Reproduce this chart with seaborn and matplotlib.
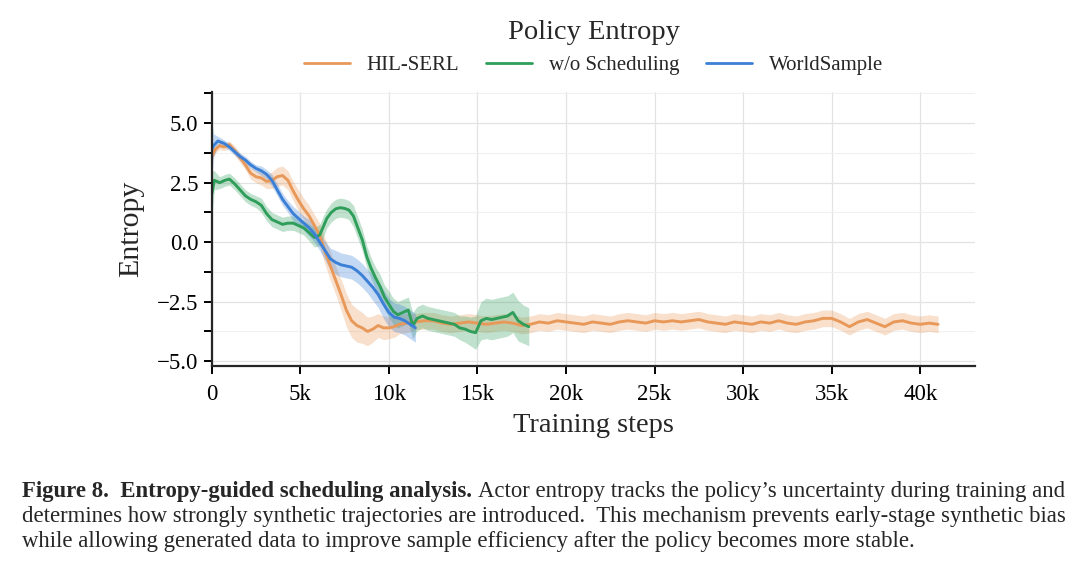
import numpy as np
import pandas as pd
import matplotlib
matplotlib.use('Agg')
import matplotlib.pyplot as plt
import seaborn as sns
from matplotlib.ticker import MultipleLocator, FuncFormatter

# HIL-SERL (steps in k, mean entropy, band half width)
hil_x = [0, 0.2, 0.45, 0.7, 1.0, 1.3, 1.6, 1.9, 2.2, 2.5,
         2.8, 3.1, 3.4, 3.7, 4.0, 4.3, 4.6, 4.9, 5.2, 5.5,
         5.8, 6.1, 6.4, 6.7, 7.0, 7.3, 7.6, 7.9, 8.2, 8.5,
         8.8, 9.1, 9.4, 9.7, 10.0, 10.3, 10.6, 11.0,
         11.5, 12, 12.5, 13, 13.5, 14, 14.5, 15, 15.5, 16,
         16.5, 17, 17.5, 18, 18.5, 19, 19.5, 20, 20.5, 21,
         21.5, 22, 22.5, 23, 23.5, 24, 24.5, 25, 25.5, 26,
         26.5, 27, 27.5, 28, 28.5, 29, 29.5, 30, 30.5, 31,
         31.5, 32, 32.5, 33, 33.5, 34, 34.5, 35, 35.5, 36,
         36.5, 37, 37.5, 38, 38.5, 39, 39.5, 40, 40.5, 41]
hil_y = [3.6, 3.9, 4.05, 4.0, 4.1, 3.85, 3.55, 3.25, 2.9, 2.75,
         2.7, 2.55, 2.6, 2.75, 2.8, 2.6, 2.15, 1.75, 1.4, 1.1,
         0.7, 0.3, -0.4, -1.0, -1.6, -2.2, -2.85, -3.3, -3.5, -3.6,
         -3.75, -3.65, -3.5, -3.6, -3.6, -3.55, -3.45, -3.4,
         -3.35, -3.3, -3.3, -3.4, -3.45, -3.4, -3.35, -3.4, -3.45, -3.4,
         -3.35, -3.4, -3.5, -3.45, -3.35, -3.4, -3.3, -3.35, -3.4, -3.45,
         -3.35, -3.4, -3.45, -3.35, -3.3, -3.35, -3.4, -3.3, -3.35, -3.3,
         -3.35, -3.3, -3.25, -3.35, -3.4, -3.45, -3.35, -3.4, -3.45, -3.35,
         -3.4, -3.3, -3.4, -3.45, -3.35, -3.3, -3.2, -3.2, -3.35, -3.55,
         -3.35, -3.25, -3.4, -3.55, -3.35, -3.3, -3.4, -3.45, -3.4, -3.45]
hil_band = [0.2, 0.15, 0.15, 0.15, 0.15, 0.2, 0.2, 0.2, 0.25, 0.25,
            0.3, 0.3, 0.35, 0.4, 0.4, 0.4, 0.4, 0.45, 0.45, 0.45,
            0.45, 0.5, 0.55, 0.6, 0.6, 0.65, 0.7, 0.7, 0.7, 0.65,
            0.6, 0.55, 0.5, 0.5, 0.45, 0.45, 0.4, 0.4,
            0.35, 0.35, 0.35, 0.35, 0.35, 0.35, 0.35, 0.35, 0.35, 0.35,
            0.35, 0.35, 0.35, 0.35, 0.35, 0.35, 0.35, 0.35, 0.35, 0.35,
            0.35, 0.35, 0.35, 0.35, 0.35, 0.35, 0.35, 0.35, 0.35, 0.35,
            0.35, 0.35, 0.35, 0.35, 0.35, 0.35, 0.35, 0.35, 0.35, 0.35,
            0.35, 0.35, 0.35, 0.35, 0.35, 0.35, 0.35, 0.35, 0.35, 0.35,
            0.35, 0.35, 0.35, 0.35, 0.35, 0.35, 0.35, 0.35, 0.35, 0.35]

# w/o Scheduling
wos_x = [0, 0.15, 0.45, 0.75, 1.0, 1.3, 1.6, 1.9, 2.2, 2.5,
         2.8, 3.1, 3.4, 3.7, 4.0, 4.3, 4.6, 4.9, 5.2, 5.5,
         5.8, 6.1, 6.3, 6.5, 6.75, 7.0, 7.25, 7.5, 7.75, 8.0,
         8.25, 8.5, 8.75, 9.0, 9.25, 9.5, 9.75, 10.0, 10.25, 10.5,
         10.8, 11.1, 11.35, 11.6, 11.9, 12.2, 12.5, 12.8, 13.1, 13.4,
         13.7, 14.0, 14.3, 14.6, 14.9, 15.2, 15.5, 15.8, 16.1, 16.4,
         16.7, 17.0, 17.3, 17.6, 17.9]
wos_y = [2.0, 2.6, 2.5, 2.6, 2.65, 2.45, 2.2, 1.95, 1.8, 1.7,
         1.55, 1.2, 0.95, 0.85, 0.75, 0.8, 0.8, 0.7, 0.6, 0.4,
         0.2, 0.3, 0.65, 1.0, 1.25, 1.4, 1.45, 1.42, 1.35, 1.1,
         0.6, 0.1, -0.6, -1.1, -1.5, -1.85, -2.3, -2.6, -2.9, -3.05,
         -2.95, -2.85, -3.5, -3.2, -3.1, -3.2, -3.25, -3.3, -3.35, -3.4,
         -3.45, -3.6, -3.65, -3.75, -3.8, -3.3, -3.2, -3.25, -3.2, -3.15,
         -3.1, -2.95, -3.3, -3.45, -3.55]
wos_band = [1.0, 0.4, 0.25, 0.25, 0.25, 0.25, 0.25, 0.25, 0.25, 0.25,
            0.3, 0.3, 0.3, 0.3, 0.3, 0.3, 0.3, 0.3, 0.3, 0.35,
            0.4, 0.45, 0.45, 0.4, 0.4, 0.4, 0.4, 0.4, 0.4, 0.45,
            0.45, 0.45, 0.45, 0.45, 0.45, 0.5, 0.5, 0.55, 0.55, 0.55,
            0.55, 0.55, 0.55, 0.5, 0.5, 0.5, 0.5, 0.5, 0.5, 0.5,
            0.5, 0.5, 0.55, 0.6, 0.7, 0.8, 0.85, 0.85, 0.85, 0.85,
            0.85, 0.85, 0.85, 0.8, 0.8]

# WorldSample
ws_x = [0, 0.1, 0.35, 0.7, 1.0, 1.3, 1.6, 1.9, 2.2, 2.5,
        2.8, 3.1, 3.4, 3.7, 4.0, 4.3, 4.6, 4.9, 5.2, 5.5,
        5.8, 6.1, 6.4, 6.7, 7.0, 7.3, 7.6, 7.9, 8.2, 8.5,
        8.8, 9.1, 9.4, 9.7, 10.0, 10.3, 10.6, 10.9, 11.2, 11.5]
ws_y = [3.9, 4.05, 4.25, 4.15, 4.0, 3.8, 3.6, 3.45, 3.25, 3.1,
        3.0, 2.85, 2.6, 2.2, 1.8, 1.5, 1.2, 1.0, 0.8, 0.6,
        0.35, 0.0, -0.35, -0.7, -0.85, -0.95, -1.0, -1.05, -1.2, -1.4,
        -1.65, -1.9, -2.2, -2.6, -2.95, -3.15, -3.2, -3.3, -3.45, -3.6]
ws_band = [1.3, 0.5, 0.2, 0.15, 0.15, 0.15, 0.15, 0.15, 0.15, 0.15,
           0.2, 0.2, 0.25, 0.25, 0.25, 0.25, 0.3, 0.3, 0.3, 0.35,
           0.35, 0.35, 0.4, 0.45, 0.5, 0.5, 0.5, 0.5, 0.5, 0.5,
           0.5, 0.55, 0.55, 0.6, 0.6, 0.6, 0.6, 0.6, 0.6, 0.6]

series = [('HIL-SERL', hil_x, hil_y, hil_band),
          ('w/o Scheduling', wos_x, wos_y, wos_band),
          ('WorldSample', ws_x, ws_y, ws_band)]
colors = {'HIL-SERL': '#e8995a', 'w/o Scheduling': '#2f9e5a', 'WorldSample': '#3b7fd6'}

rows = []
for name, xs, ys, bs in series:
    assert len(xs) == len(ys) == len(bs), name
    for x, y, b in zip(xs, ys, bs):
        rows.append({'step': x * 1000, 'entropy': y, 'band': b, 'method': name})
df = pd.DataFrame(rows)

sns.set_style('ticks')
plt.rcParams['font.family'] = ['Liberation Serif', 'DejaVu Serif']

fig = plt.figure(figsize=(10.8, 5.8), dpi=100)
ax = fig.add_axes([0.196, 0.369, 0.707, 0.472])

for name, grp in df.groupby('method', sort=False):
    ax.fill_between(grp['step'], grp['entropy'] - grp['band'], grp['entropy'] + grp['band'],
                    color=colors[name], alpha=0.3, linewidth=0)
sns.lineplot(data=df, x='step', y='entropy', hue='method', palette=colors,
             linewidth=2.1, ax=ax, sort=False, estimator=None)

ax.set_xlim(0, 43100)
ax.set_ylim(-5.2, 6.3)
ax.xaxis.set_major_locator(MultipleLocator(5000))
ax.xaxis.set_major_formatter(FuncFormatter(lambda v, p: '0' if v == 0 else f'{int(v/1000)}k'))
ax.yaxis.set_major_locator(MultipleLocator(2.5))
ax.yaxis.set_minor_locator(MultipleLocator(1.25))
ax.yaxis.set_major_formatter(FuncFormatter(lambda v, p: f'{v:.1f}'.replace('-', '\u2212')))
ax.grid(which='major', color='#e3e3e3', linewidth=0.9)
ax.grid(which='minor', axis='y', color='#f0f0f0', linewidth=0.8)
ax.set_axisbelow(True)
ax.tick_params(axis='both', which='both', direction='out', length=6, width=1.4, labelsize=16.5,
               colors='black')
ax.tick_params(axis='x', pad=7)
for s in ['left', 'bottom']:
    ax.spines[s].set_linewidth(1.6)
sns.despine(ax=ax)
ax.set_xlabel('Training steps', fontsize=20.5, labelpad=6)
ax.set_ylabel('Entropy', fontsize=21.5, labelpad=9)

leg = ax.legend(loc='lower center', bbox_to_anchor=(0.5, 0.995), ncol=3, frameon=False,
                fontsize=15, title='Policy Entropy', title_fontsize=20.5,
                handlelength=2.2, columnspacing=1.3)
for h in leg.get_lines():
    h.set_linewidth(2)

# caption
cap_size = 16.4
bold = fig.text(0.02, 0.152, 'Figure 8.  Entropy-guided scheduling analysis.', fontsize=cap_size,
                fontweight='bold', va='center', ha='left')
fig.canvas.draw()
bb = bold.get_window_extent()
fig.text(bb.x1 / fig.bbox.width + 0.006, 0.152,
         'Actor entropy tracks the policy\u2019s uncertainty during training and',
         fontsize=cap_size, va='center', ha='left')
fig.text(0.02, 0.109, 'determines how strongly synthetic trajectories are introduced.  '
         'This mechanism prevents early-stage synthetic bias', fontsize=cap_size, va='center', ha='left')
fig.text(0.02, 0.066, 'while allowing generated data to improve sample efficiency after the policy '
         'becomes more stable.', fontsize=cap_size, va='center', ha='left')

fig.savefig('out.png', dpi=100)
